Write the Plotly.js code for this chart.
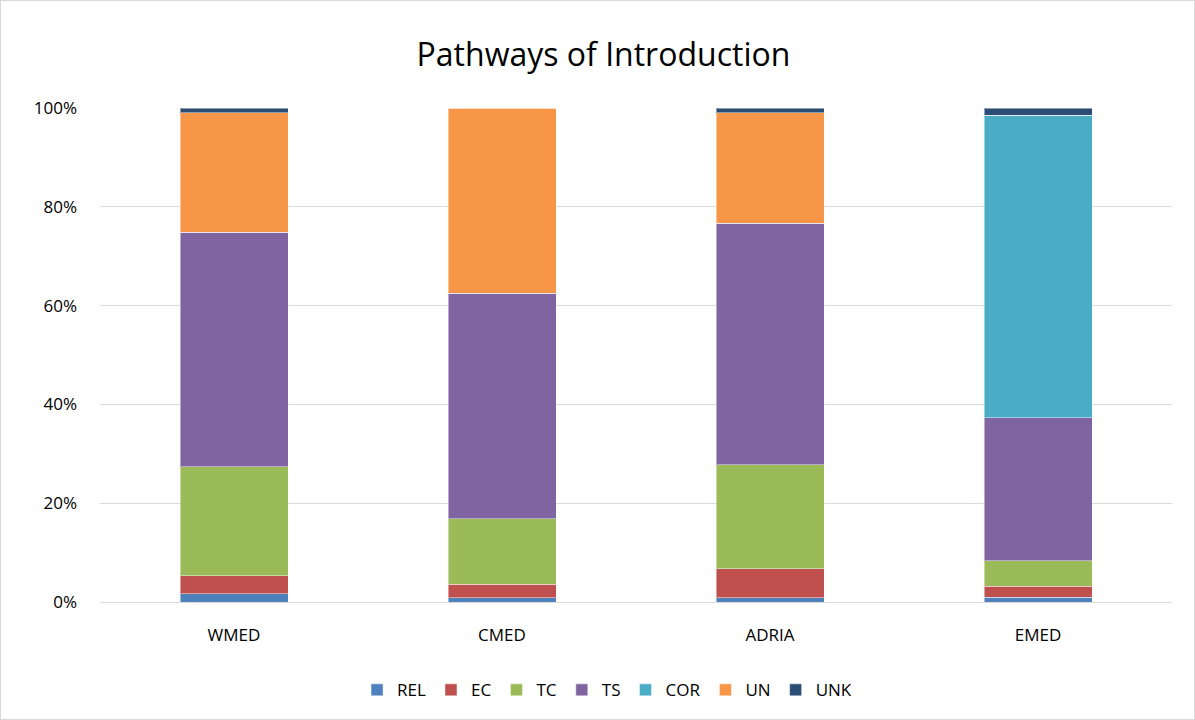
<!DOCTYPE html>
<html><head><meta charset="utf-8">
<script src="https://cdn.plot.ly/plotly-3.0.1.min.js"></script>
<style>body{margin:0;background:#fff}#wrap{width:1195px;height:720px;box-sizing:border-box;border:1px solid #d9d9d9}#chart{width:1193px;height:718px}</style>
</head><body><div id="wrap"><div id="chart"></div></div>
<script>
const regions = ["WMED", "CMED", "ADRIA", "EMED"];
const REL = [1.7, 0.9, 0.9, 1.0];
const EC  = [3.6, 2.7, 5.8, 2.2];
const TC  = [22.1, 13.3, 21.1, 5.2];
const TS  = [47.4, 45.6, 48.9, 28.9];
const COR = [0, 0, 0, 61.2];
const UN  = [24.2, 37.5, 22.3, 0];
const UNK = [1.0, 0, 1.0, 1.5];
const seriesNames = ["REL", "EC", "TC", "TS", "COR", "UN", "UNK"];
const seriesVals = [REL, EC, TC, TS, COR, UN, UNK];
const colors = ["#4F81BD", "#C0504D", "#9BBB59", "#8064A2", "#4BACC6", "#F79646", "#2C4D75"];
const yTicks = [0, 20, 40, 60, 80, 100];
const yTickText = ["0%", "20%", "40%", "60%", "80%", "100%"];

const totals = regions.map((_, i) => seriesVals.reduce((s, a) => s + a[i], 0));
const traces = seriesNames.map((n, k) => ({
  type: "bar", name: n, x: regions,
  y: seriesVals[k].map((v, i) => v / totals[i] * 100),
  marker: {color: colors[k], line: {color: "rgba(255,255,255,0.45)", width: 1}},
  hoverinfo: "name+y"
}));
const layout = {
  barmode: "stack", bargap: 0.597,
  width: 1193, height: 718,
  margin: {l: 99, r: 22, t: 107, b: 116},
  paper_bgcolor: "#fff", plot_bgcolor: "#fff",
  font: {family: "Open Sans, Liberation Sans, sans-serif", color: "#000", size: 17},
  title: {text: "Pathways of Introduction", x: 0.505, xanchor: "center", y: 0.925, yanchor: "middle",
          font: {size: 32, color: "#000"}},
  xaxis: {showgrid: false, showline: true, linecolor: "#d9d9d9", linewidth: 1, ticks: "",
          ticklabelstandoff: 18, tickfont: {size: 17, color: "#000"}},
  yaxis: {range: [0, 100], tickvals: yTicks, ticktext: yTickText, showgrid: true, gridcolor: "#d9d9d9",
          gridwidth: 1, zeroline: false, showline: false, ticks: "", ticklen: 0,
          ticklabelstandoff: 22, tickfont: {size: 17, color: "#000"}},
  legend: {orientation: "h", x: 0.473, xanchor: "center", y: -0.14, yanchor: "top",
           font: {size: 17, color: "#000"}, traceorder: "normal"},
  showlegend: true
};
Plotly.newPlot("chart", traces, layout, {displayModeBar: false, staticPlot: true});
</script></body></html>
